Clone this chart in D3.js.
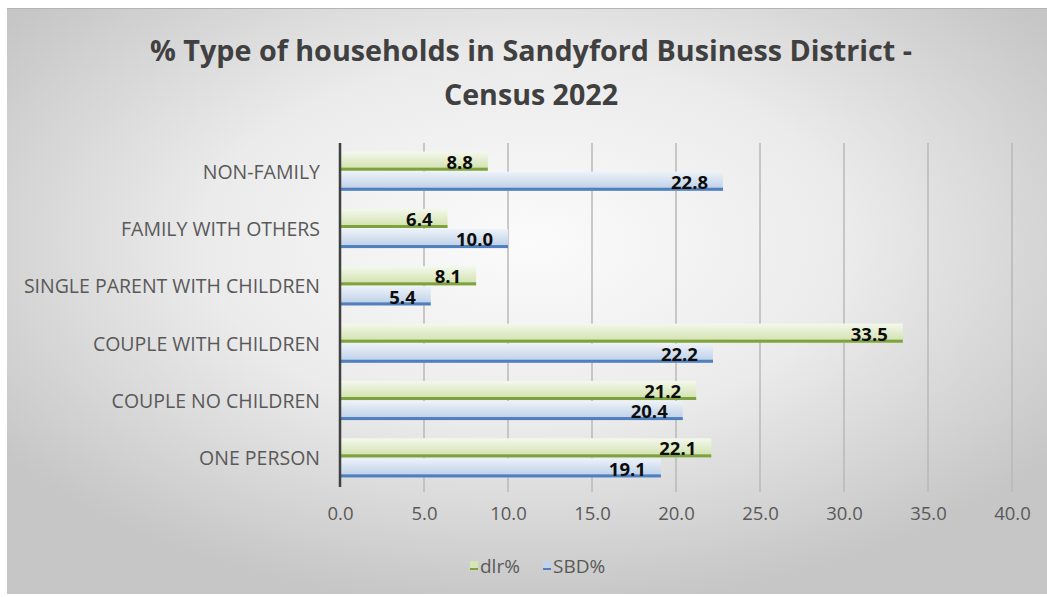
<!DOCTYPE html>
<html>
<head>
<meta charset="utf-8">
<script src="https://cdn.jsdelivr.net/npm/d3@7"></script>
<style>
  html, body { margin: 0; padding: 0; background: #ffffff; }
  svg { display: block; }
  text { font-family: "Open Sans", "Noto Sans", sans-serif; }
</style>
</head>
<body>
<svg id="chart" width="1047" height="597"></svg>
<script>
// Household types, listed top to bottom as shown on the axis
const categories = [
  "NON-FAMILY",
  "FAMILY WITH OTHERS",
  "SINGLE PARENT WITH CHILDREN",
  "COUPLE WITH CHILDREN",
  "COUPLE NO CHILDREN",
  "ONE PERSON"
];
const seriesNames = ["dlr%", "SBD%"];
const dlrValues = [8.8, 6.4, 8.1, 33.5, 21.2, 22.1];
const sbdValues = [22.8, 10.0, 5.4, 22.2, 20.4, 19.1];
const xTicks = [0, 5, 10, 15, 20, 25, 30, 35, 40];
const titleLines = ["% Type of households in Sandyford Business District -", "Census 2022"];

const svg = d3.select("#chart");
const W = 1047, H = 597;

const defs = svg.append("defs");

// Soft radial backdrop for the chart frame
const bg = defs.append("radialGradient").attr("id", "bgGrad")
  .attr("cx", "50%").attr("cy", "40%").attr("r", "62%");
bg.append("stop").attr("offset", "0%").attr("stop-color", "#fbfbfb");
bg.append("stop").attr("offset", "50%").attr("stop-color", "#ebebeb");
bg.append("stop").attr("offset", "100%").attr("stop-color", "#c6c6c6");

// Bar fills: pale at top, deeper towards the base
const greenGrad = defs.append("linearGradient").attr("id", "greenGrad")
  .attr("x1", 0).attr("y1", 0).attr("x2", 0).attr("y2", 1);
greenGrad.append("stop").attr("offset", "0%").attr("stop-color", "#f4f8ec");
greenGrad.append("stop").attr("offset", "100%").attr("stop-color", "#cfe0a9");
const blueGrad = defs.append("linearGradient").attr("id", "blueGrad")
  .attr("x1", 0).attr("y1", 0).attr("x2", 0).attr("y2", 1);
blueGrad.append("stop").attr("offset", "0%").attr("stop-color", "#edf2f9");
blueGrad.append("stop").attr("offset", "100%").attr("stop-color", "#b9cde6");

const fills = { "dlr%": "url(#greenGrad)", "SBD%": "url(#blueGrad)" };
const edges = { "dlr%": "#7fa240", "SBD%": "#4f7fbc" };
const swatchFill = { "dlr%": "#d4e4b2", "SBD%": "#c2d4ec" };

// Frame
svg.append("rect").attr("x", 7).attr("y", 8).attr("width", W - 7).attr("height", 586)
  .attr("fill", "url(#bgGrad)");
svg.append("line").attr("x1", 7).attr("x2", W).attr("y1", 8.5).attr("y2", 8.5)
  .attr("stroke", "#b4b4b4").attr("stroke-width", 1);

// Title
svg.selectAll("text.title").data(titleLines).join("text")
  .attr("class", "title")
  .attr("x", 531)
  .attr("y", (d, i) => 61 + i * 44)
  .attr("text-anchor", "middle")
  .attr("fill", "#404040")
  .attr("font-weight", "bold")
  .attr("font-size", 29)
  .attr("textLength", (d, i) => i === 0 ? 762 : 174)
  .attr("lengthAdjust", "spacingAndGlyphs")
  .text(d => d);

// Scales
const x = d3.scaleLinear().domain([0, 40]).range([340, 1012]);
const y = d3.scaleBand().domain(categories).range([143, 487])
  .paddingInner(0.3).paddingOuter(0.15);
const ySub = d3.scaleBand().domain(seriesNames).range([0, y.bandwidth()]);

// Vertical gridlines
svg.append("g").selectAll("line").data(xTicks.filter(t => t > 0)).join("line")
  .attr("x1", d => x(d)).attr("x2", d => x(d))
  .attr("y1", 143).attr("y2", 492)
  .attr("stroke", "#b8b8b8").attr("stroke-width", 1.5);

// Tick labels along the bottom
const xAxis = svg.append("g").attr("transform", "translate(0,487)")
  .call(d3.axisBottom(x).tickValues(xTicks).tickFormat(d3.format(".1f")).tickSize(0).tickPadding(20));
xAxis.select(".domain").remove();
xAxis.selectAll("text")
  .attr("fill", "#595959").attr("font-size", 18.5);

// Category labels
const yAxis = svg.append("g").attr("transform", "translate(320,0)")
  .call(d3.axisLeft(y).tickSize(0).tickPadding(0));
yAxis.select(".domain").remove();
yAxis.selectAll("text")
  .attr("fill", "#595959").attr("font-size", 19.5).attr("dy", "0.36em");

// Bars
const rows = categories.map((c, i) => ({
  category: c,
  values: [
    { series: "dlr%", value: dlrValues[i] },
    { series: "SBD%", value: sbdValues[i] }
  ]
}));

const groups = svg.append("g").selectAll("g").data(rows).join("g")
  .attr("transform", d => `translate(0,${y(d.category)})`);

const bars = groups.selectAll("g.bar").data(d => d.values).join("g").attr("class", "bar");
const barH = ySub.bandwidth() - 1;
bars.append("rect")
  .attr("x", x(0))
  .attr("y", d => ySub(d.series))
  .attr("width", d => x(d.value) - x(0))
  .attr("height", barH)
  .attr("fill", d => fills[d.series]);
bars.append("rect")
  .attr("x", x(0))
  .attr("y", d => ySub(d.series) + barH - 3)
  .attr("width", d => x(d.value) - x(0))
  .attr("height", 3)
  .attr("fill", d => edges[d.series]);

// Value labels just inside the bar end
bars.append("text")
  .attr("x", d => x(d.value) - 15)
  .attr("y", d => ySub(d.series) + barH / 2 + 1)
  .attr("dy", "0.36em")
  .attr("text-anchor", "end")
  .attr("fill", "#0d0d0d")
  .attr("font-weight", "bold")
  .attr("font-size", 18.5)
  .text(d => d.value.toFixed(1));

// Category axis line
svg.append("line").attr("x1", x(0)).attr("x2", x(0)).attr("y1", 143).attr("y2", 487)
  .attr("stroke", "#404040").attr("stroke-width", 2.5);

// Legend
const legendItems = [
  { name: "dlr%", sx: 470, tx: 480 },
  { name: "SBD%", sx: 543, tx: 553 }
];
const legend = svg.append("g");
legend.selectAll("rect.sw").data(legendItems).join("rect")
  .attr("class", "sw")
  .attr("x", d => d.sx).attr("y", 561).attr("width", 8).attr("height", 9)
  .attr("fill", d => swatchFill[d.name]);
legend.selectAll("rect.edge").data(legendItems).join("rect")
  .attr("class", "edge")
  .attr("x", d => d.sx).attr("y", 568).attr("width", 8).attr("height", 2)
  .attr("fill", d => edges[d.name]);
legend.selectAll("text").data(legendItems).join("text")
  .attr("x", d => d.tx).attr("y", 566).attr("dy", "0.36em")
  .attr("fill", "#595959").attr("font-size", 19)
  .text(d => d.name);
</script>
</body>
</html>
